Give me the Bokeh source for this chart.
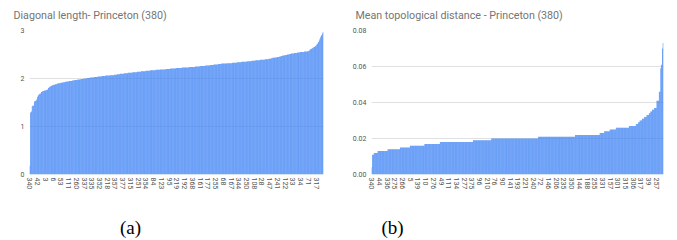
from bokeh.plotting import figure
from bokeh.models import Range1d, FixedTicker, PrintfTickFormatter, LinearAxis
from bokeh.layouts import row
from bokeh.embed import file_html
from bokeh.resources import INLINE

# ---------------- data ----------------
diag_title = "Diagonal length- Princeton (380)"
diag_values = [
    0.18, 1.29, 1.31, 1.42, 1.43, 1.44, 1.52, 1.53, 1.54, 1.56,
    1.62, 1.65, 1.67, 1.68, 1.69, 1.72, 1.73, 1.74, 1.74, 1.75,
    1.75, 1.76, 1.76, 1.77, 1.80, 1.82, 1.83, 1.84, 1.85, 1.86,
    1.86, 1.87, 1.87, 1.88, 1.88, 1.89, 1.89, 1.90, 1.90, 1.90,
    1.91, 1.91, 1.91, 1.92, 1.92, 1.92, 1.93, 1.93, 1.94, 1.94,
    1.94, 1.95, 1.95, 1.95, 1.95, 1.96, 1.96, 1.96, 1.97, 1.97,
    1.97, 1.97, 1.98, 1.98, 1.98, 1.98, 1.99, 1.99, 1.99, 1.99,
    2.00, 2.00, 2.00, 2.00, 2.01, 2.01, 2.01, 2.01, 2.02, 2.02,
    2.02, 2.02, 2.02, 2.03, 2.03, 2.03, 2.03, 2.03, 2.04, 2.04,
    2.04, 2.04, 2.04, 2.05, 2.05, 2.05, 2.05, 2.05, 2.06, 2.06,
    2.06, 2.06, 2.06, 2.06, 2.07, 2.07, 2.07, 2.07, 2.07, 2.08,
    2.08, 2.08, 2.08, 2.09, 2.09, 2.09, 2.09, 2.10, 2.10, 2.10,
    2.10, 2.10, 2.11, 2.11, 2.11, 2.11, 2.11, 2.12, 2.12, 2.12,
    2.12, 2.12, 2.12, 2.13, 2.13, 2.13, 2.13, 2.13, 2.13, 2.14,
    2.14, 2.14, 2.14, 2.14, 2.15, 2.15, 2.15, 2.15, 2.15, 2.15,
    2.16, 2.16, 2.16, 2.16, 2.16, 2.16, 2.17, 2.17, 2.17, 2.17,
    2.17, 2.17, 2.17, 2.18, 2.18, 2.18, 2.18, 2.18, 2.18, 2.19,
    2.19, 2.19, 2.19, 2.19, 2.19, 2.19, 2.20, 2.20, 2.20, 2.20,
    2.20, 2.20, 2.21, 2.21, 2.21, 2.21, 2.21, 2.21, 2.21, 2.22,
    2.22, 2.22, 2.22, 2.22, 2.22, 2.22, 2.22, 2.23, 2.23, 2.23,
    2.23, 2.23, 2.23, 2.23, 2.23, 2.23, 2.24, 2.24, 2.24, 2.24,
    2.24, 2.24, 2.24, 2.24, 2.25, 2.25, 2.25, 2.25, 2.25, 2.25,
    2.26, 2.26, 2.26, 2.26, 2.26, 2.26, 2.26, 2.27, 2.27, 2.27,
    2.27, 2.27, 2.27, 2.28, 2.28, 2.28, 2.28, 2.28, 2.29, 2.29,
    2.29, 2.29, 2.29, 2.29, 2.30, 2.30, 2.30, 2.30, 2.31, 2.31,
    2.31, 2.31, 2.31, 2.31, 2.31, 2.32, 2.32, 2.32, 2.32, 2.32,
    2.32, 2.32, 2.33, 2.33, 2.33, 2.33, 2.33, 2.33, 2.34, 2.34,
    2.34, 2.34, 2.34, 2.34, 2.35, 2.35, 2.35, 2.35, 2.35, 2.35,
    2.35, 2.36, 2.36, 2.36, 2.36, 2.36, 2.36, 2.37, 2.37, 2.37,
    2.37, 2.37, 2.38, 2.38, 2.38, 2.38, 2.38, 2.38, 2.39, 2.39,
    2.39, 2.39, 2.39, 2.39, 2.40, 2.40, 2.40, 2.40, 2.40, 2.41,
    2.41, 2.41, 2.42, 2.42, 2.43, 2.43, 2.43, 2.44, 2.44, 2.44,
    2.45, 2.45, 2.45, 2.46, 2.46, 2.47, 2.47, 2.48, 2.48, 2.48,
    2.49, 2.49, 2.49, 2.50, 2.50, 2.50, 2.51, 2.51, 2.52, 2.52,
    2.52, 2.52, 2.53, 2.53, 2.53, 2.53, 2.54, 2.54, 2.54, 2.54,
    2.55, 2.55, 2.55, 2.55, 2.55, 2.56, 2.56, 2.56, 2.56, 2.57,
    2.57, 2.58, 2.60, 2.61, 2.62, 2.63, 2.64, 2.65, 2.66, 2.67,
    2.69, 2.71, 2.73, 2.76, 2.79, 2.83, 2.87, 2.90, 2.93, 2.97,
]
diag_tick_labels = ["340", "42", "3", "6", "53", "111", "260", "337", "335", "352",
                    "218", "357", "377", "315", "251", "354", "84", "123", "95", "219",
                    "192", "368", "161", "177", "255", "68", "167", "344", "250", "108",
                    "28", "147", "241", "122", "33", "34", "71", "317"]
diag_y_ticks = [0, 1, 2, 3]

topo_title = "Mean topological distance - Princeton (380)"
# sorted values read as plateaus: value level and number of bars at that level
topo_levels = [0.004, 0.011, 0.012, 0.013, 0.014, 0.015, 0.016, 0.017, 0.018, 0.019,
               0.020, 0.021, 0.022, 0.023, 0.024, 0.025, 0.026, 0.027,
               0.028, 0.029, 0.030, 0.031, 0.032, 0.033, 0.034, 0.035, 0.036, 0.037,
               0.041, 0.046, 0.059, 0.061, 0.070, 0.073]
topo_counts = [1, 2, 5, 13, 16, 13, 19, 20, 43, 24,
               61, 48, 32, 6, 7, 8, 17, 9,
               3, 2, 3, 3, 3, 3, 2, 2, 3, 3,
               3, 2, 1, 1, 1, 1]
topo_tick_labels = ["340", "44", "336", "275", "266", "5", "139", "10", "276", "49",
                    "111", "134", "277", "375", "96", "210", "76", "90", "141", "193",
                    "221", "240", "72", "146", "206", "235", "350", "144", "188", "255",
                    "331", "157", "301", "315", "306", "317", "39", "257"]
topo_y_ticks = [0.0, 0.02, 0.04, 0.06, 0.08]

topo_values = []
for lv, c in zip(topo_levels, topo_counts):
    topo_values.extend([lv] * c)

BAR = "#4285F4"
FONT = "Roboto"


def make_chart(values, tick_labels, title, y_ticks, y_fmt, width, border_left,
               border_right, caption, cap_x):
    n = len(values)
    p = figure(width=width, height=240, output_backend="svg", toolbar_location=None,
               x_range=Range1d(-0.5, n - 0.5), y_range=Range1d(y_ticks[0], y_ticks[-1]),
               min_border_left=border_left, min_border_right=border_right,
               min_border_top=30, min_border_bottom=65)
    p.outline_line_color = None
    p.background_fill_color = "white"
    p.border_fill_color = "white"

    p.vbar(x=list(range(n)), top=values, width=0.93, bottom=0,
           fill_color=BAR, line_color=None)

    ticks = list(range(0, n, 10))
    xa = p.xaxis[0]
    xa.ticker = FixedTicker(ticks=ticks)
    xa.major_label_overrides = {t: lab for t, lab in zip(ticks, tick_labels)}
    xa.major_label_orientation = "vertical"
    xa.axis_line_color = None
    xa.major_tick_line_color = None
    xa.minor_tick_line_color = None
    xa.major_tick_out = 0
    xa.major_label_standoff = 3
    xa.major_label_text_font = FONT
    xa.major_label_text_font_size = "7px"
    xa.major_label_text_color = "#555555"

    # caption "(a)" / "(b)" as a single-tick axis below the chart
    cap = LinearAxis(ticker=FixedTicker(ticks=[cap_x]),
                     major_label_overrides={cap_x: caption})
    cap.axis_line_color = None
    cap.major_tick_line_color = None
    cap.minor_tick_line_color = None
    cap.major_tick_out = 0
    cap.major_label_standoff = 24
    cap.major_label_text_font = "Liberation Serif"
    cap.major_label_text_font_size = "19px"
    cap.major_label_text_color = "black"
    p.add_layout(cap, "below")

    p.yaxis.ticker = FixedTicker(ticks=y_ticks)
    p.yaxis.formatter = PrintfTickFormatter(format=y_fmt)
    p.yaxis.axis_line_color = None
    p.yaxis.major_tick_line_color = None
    p.yaxis.minor_tick_line_color = None
    p.yaxis.major_tick_out = 0
    p.yaxis.major_label_standoff = 5
    p.yaxis.major_label_text_font = FONT
    p.yaxis.major_label_text_font_size = "7px"
    p.yaxis.major_label_text_color = "#555555"

    p.xgrid.visible = False
    p.ygrid.ticker = FixedTicker(ticks=y_ticks)
    p.ygrid.grid_line_color = "#e0e0e0"

    p.title.text = title
    p.title.text_font = FONT
    p.title.text_font_size = "10.7px"
    p.title.text_font_style = "normal"
    p.title.text_color = "#757575"
    p.title.align = "left"
    p.title.offset = -16
    p.title.vertical_align = "top"
    p.title.standoff = 14
    return p


p1 = make_chart(diag_values, diag_tick_labels, diag_title, diag_y_ticks, "%d",
                338, 29, 15, "(a)", 130)
p2 = make_chart(topo_values, topo_tick_labels, topo_title, topo_y_ticks, "%.2f",
                339, 33, 14, "(b)", 27)

layout = row(p1, p2)
open("out.html", "w").write(file_html(layout, INLINE))
